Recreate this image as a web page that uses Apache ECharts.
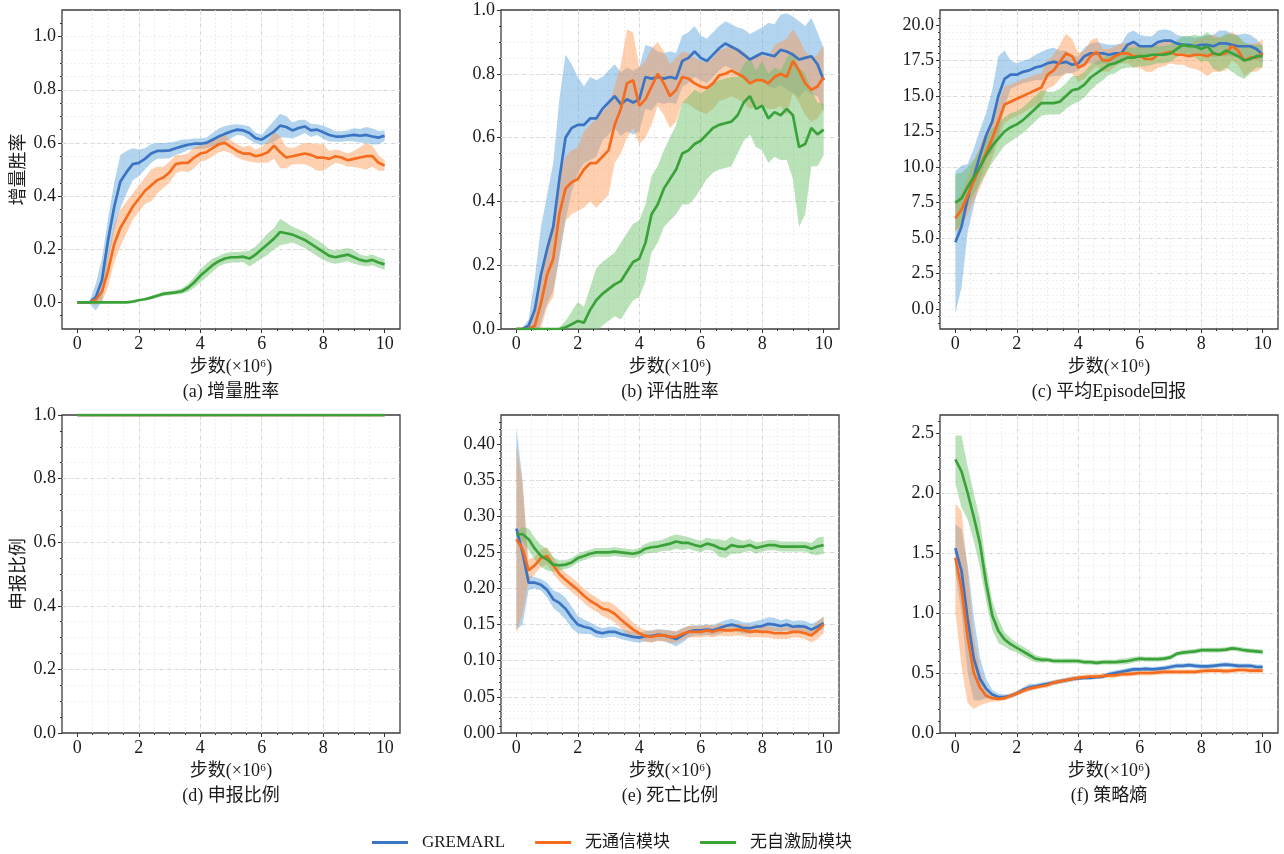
<!DOCTYPE html>
<html>
<head>
<meta charset="utf-8">
<script src="https://cdn.jsdelivr.net/npm/echarts@6/dist/echarts.min.js"></script>
<style>
  html, body { margin: 0; background: #fff; }
  #chart { width: 1284px; height: 854px; }
</style>
</head>
<body>
<div id="chart"></div>
<script>
// training steps (x 10^6)
const steps = [0, 0.2, 0.4, 0.6, 0.8, 1, 1.2, 1.4, 1.6, 1.8, 2, 2.2, 2.4, 2.6, 2.8, 3, 3.2, 3.4, 3.6, 3.8,
  4, 4.2, 4.4, 4.6, 4.8, 5, 5.2, 5.4, 5.6, 5.8, 6, 6.2, 6.4, 6.6, 6.8, 7, 7.2, 7.4, 7.6, 7.8,
  8, 8.2, 8.4, 8.6, 8.8, 9, 9.2, 9.4, 9.6, 9.8, 10];
const reportSteps = [0, 1, 2, 3, 4, 5, 6, 7, 8, 9, 10];

const methods = ["GREMARL", "无通信模块", "无自激励模块"];

// (a) 增量胜率
const winA_g = [0, 0, 0, 0.02, 0.084, 0.235, 0.36, 0.455, 0.49, 0.52,
  0.525, 0.54, 0.56, 0.57, 0.57, 0.572, 0.58, 0.587, 0.593, 0.597,
  0.597, 0.6, 0.612, 0.624, 0.634, 0.643, 0.65, 0.647, 0.637, 0.618,
  0.612, 0.627, 0.643, 0.665, 0.66, 0.647, 0.656, 0.662, 0.647, 0.65,
  0.64, 0.63, 0.624, 0.624, 0.627, 0.63, 0.627, 0.63, 0.624, 0.62, 0.627];
const winA_g_sd = [0, 0, 0.005, 0.05, 0.08, 0.08, 0.09, 0.1, 0.08, 0.06,
  0.05, 0.04, 0.035, 0.03, 0.03, 0.03, 0.025, 0.025, 0.02, 0.02,
  0.02, 0.02, 0.025, 0.03, 0.03, 0.025, 0.02, 0.02, 0.025, 0.02,
  0.02, 0.03, 0.04, 0.045, 0.04, 0.03, 0.03, 0.025, 0.025, 0.02,
  0.025, 0.025, 0.02, 0.02, 0.02, 0.025, 0.025, 0.03, 0.03, 0.025, 0.02];
const winA_o = [0, 0, 0, 0.01, 0.04, 0.12, 0.22, 0.28, 0.32, 0.36,
  0.39, 0.42, 0.44, 0.46, 0.47, 0.49, 0.52, 0.525, 0.525, 0.545,
  0.56, 0.565, 0.58, 0.595, 0.6, 0.585, 0.57, 0.56, 0.56, 0.55,
  0.555, 0.565, 0.59, 0.565, 0.545, 0.55, 0.555, 0.56, 0.555, 0.545,
  0.545, 0.54, 0.55, 0.545, 0.535, 0.54, 0.545, 0.55, 0.55, 0.525, 0.515];
const winA_o_sd = [0, 0, 0.005, 0.02, 0.04, 0.06, 0.07, 0.07, 0.06, 0.05,
  0.05, 0.05, 0.06, 0.05, 0.04, 0.04, 0.035, 0.03, 0.035, 0.04,
  0.03, 0.03, 0.03, 0.03, 0.03, 0.025, 0.025, 0.025, 0.03, 0.025,
  0.03, 0.04, 0.05, 0.06, 0.04, 0.03, 0.035, 0.04, 0.045, 0.05,
  0.05, 0.03, 0.025, 0.025, 0.025, 0.03, 0.04, 0.05, 0.04, 0.03, 0.02];
const winA_n = [0, 0, 0, 0, 0, 0, 0, 0, 0, 0.003,
  0.008, 0.012, 0.018, 0.025, 0.032, 0.035, 0.038, 0.042, 0.055, 0.075,
  0.1, 0.12, 0.14, 0.155, 0.165, 0.17, 0.17, 0.172, 0.165, 0.18,
  0.2, 0.22, 0.24, 0.265, 0.26, 0.255, 0.245, 0.235, 0.22, 0.205,
  0.19, 0.175, 0.17, 0.175, 0.18, 0.17, 0.16, 0.155, 0.16, 0.15, 0.143];
const winA_n_sd = [0, 0, 0, 0, 0, 0, 0, 0, 0, 0.002,
  0.004, 0.005, 0.006, 0.007, 0.008, 0.008, 0.008, 0.01, 0.015, 0.02,
  0.025, 0.025, 0.025, 0.02, 0.02, 0.02, 0.02, 0.02, 0.03, 0.03,
  0.035, 0.04, 0.04, 0.05, 0.04, 0.03, 0.03, 0.03, 0.03, 0.03,
  0.03, 0.025, 0.025, 0.025, 0.025, 0.025, 0.02, 0.02, 0.02, 0.02, 0.02];

// (b) 评估胜率
const evalB_g = [0, 0, 0.01, 0.06, 0.17, 0.25, 0.32, 0.47, 0.6, 0.63,
  0.64, 0.64, 0.66, 0.66, 0.69, 0.71, 0.73, 0.705, 0.72, 0.71,
  0.72, 0.79, 0.785, 0.79, 0.785, 0.79, 0.785, 0.84, 0.85, 0.87,
  0.85, 0.84, 0.86, 0.88, 0.895, 0.885, 0.875, 0.86, 0.845, 0.855,
  0.865, 0.86, 0.855, 0.875, 0.87, 0.86, 0.845, 0.85, 0.855, 0.83, 0.78];
const evalB_g_sd = [0, 0.005, 0.02, 0.1, 0.15, 0.17, 0.2, 0.25, 0.26, 0.2,
  0.15, 0.12, 0.13, 0.12, 0.1, 0.1, 0.1, 0.1, 0.1, 0.1,
  0.1, 0.1, 0.1, 0.08, 0.08, 0.08, 0.08, 0.08, 0.08, 0.08,
  0.07, 0.07, 0.07, 0.07, 0.07, 0.07, 0.07, 0.08, 0.08, 0.08,
  0.08, 0.1, 0.1, 0.11, 0.12, 0.12, 0.12, 0.1, 0.12, 0.1, 0.1];
const evalB_o = [0, 0, 0, 0.01, 0.08, 0.17, 0.22, 0.36, 0.44, 0.46,
  0.47, 0.5, 0.52, 0.52, 0.54, 0.56, 0.64, 0.69, 0.77, 0.78,
  0.7, 0.72, 0.76, 0.8, 0.77, 0.73, 0.75, 0.79, 0.785, 0.77,
  0.76, 0.755, 0.77, 0.795, 0.8, 0.81, 0.8, 0.79, 0.77, 0.78,
  0.78, 0.77, 0.79, 0.8, 0.79, 0.84, 0.81, 0.77, 0.75, 0.76, 0.79];
const evalB_o_sd = [0, 0, 0.01, 0.04, 0.08, 0.1, 0.12, 0.12, 0.1, 0.1,
  0.1, 0.12, 0.12, 0.14, 0.14, 0.14, 0.12, 0.14, 0.17, 0.15,
  0.12, 0.12, 0.12, 0.1, 0.1, 0.1, 0.1, 0.08, 0.08, 0.08,
  0.08, 0.08, 0.08, 0.08, 0.08, 0.08, 0.08, 0.08, 0.08, 0.08,
  0.08, 0.08, 0.1, 0.1, 0.12, 0.1, 0.1, 0.1, 0.1, 0.1, 0.1];
const evalB_n = [0, 0, 0, 0, 0, 0, 0, 0, 0.005, 0.015,
  0.025, 0.02, 0.06, 0.09, 0.11, 0.125, 0.14, 0.15, 0.18, 0.21,
  0.22, 0.27, 0.36, 0.39, 0.44, 0.47, 0.5, 0.55, 0.56, 0.58,
  0.59, 0.61, 0.63, 0.64, 0.645, 0.65, 0.67, 0.71, 0.73, 0.69,
  0.7, 0.66, 0.68, 0.67, 0.69, 0.67, 0.57, 0.58, 0.63, 0.61, 0.625];
const evalB_n_sd = [0, 0, 0, 0, 0, 0, 0, 0.005, 0.02, 0.04,
  0.06, 0.05, 0.07, 0.1, 0.1, 0.1, 0.1, 0.12, 0.12, 0.12,
  0.12, 0.12, 0.12, 0.12, 0.12, 0.13, 0.14, 0.16, 0.17, 0.17,
  0.15, 0.14, 0.14, 0.14, 0.14, 0.14, 0.12, 0.12, 0.12, 0.12,
  0.14, 0.14, 0.14, 0.14, 0.16, 0.2, 0.25, 0.22, 0.12, 0.1, 0.08];

// (c) 平均Episode回报
const retC_g = [4.7, 5.8, 7.8, 9.3, 10.8, 12.2, 13.2, 15.0, 16.2, 16.5,
  16.5, 16.7, 16.8, 17.0, 17.1, 17.3, 17.4, 17.3, 17.4, 17.2,
  17.3, 17.8, 18.0, 18.0, 18.0, 17.9, 18.0, 18.0, 18.6, 18.8,
  18.5, 18.5, 18.5, 18.8, 18.9, 18.9, 18.7, 18.6, 18.6, 18.5,
  18.6, 18.6, 18.5, 18.7, 18.7, 18.6, 18.5, 18.5, 18.5, 18.3, 17.9];
const retC_g_sd = [5.0, 4.3, 2.4, 2.0, 1.8, 1.6, 2.2, 2.8, 2.0, 1.0,
  0.8, 0.8, 0.8, 0.9, 1.0, 1.0, 1.0, 0.9, 0.8, 0.6,
  0.5, 0.6, 0.7, 0.8, 0.7, 0.7, 0.6, 0.7, 0.8, 0.8,
  0.8, 0.7, 0.7, 0.8, 0.8, 0.7, 0.6, 0.6, 0.6, 0.6,
  0.6, 0.7, 0.8, 0.9, 0.9, 0.8, 0.8, 0.9, 0.8, 0.7, 0.6];
const retC_o = [6.4, 7.0, 8.0, 9.0, 10.0, 11.0, 12.0, 13.2, 14.4, 14.6,
  14.8, 15.0, 15.2, 15.4, 15.6, 16.5, 16.8, 17.4, 18.0, 17.8,
  17.0, 17.2, 17.8, 18.1, 17.5, 17.5, 17.8, 18.0, 18.0, 17.8,
  17.8, 17.6, 17.6, 17.9, 18.0, 18.1, 17.9, 17.9, 17.8, 17.9,
  17.9, 17.8, 18.0, 17.9, 18.0, 18.5, 18.2, 17.5, 17.7, 17.7, 18.0];
const retC_o_sd = [1.0, 1.2, 1.3, 1.4, 1.5, 1.5, 1.4, 1.3, 1.3, 1.2,
  1.2, 1.2, 1.1, 1.1, 1.0, 1.0, 1.1, 1.2, 1.4, 1.2,
  1.0, 1.0, 1.1, 1.0, 0.8, 0.8, 0.7, 0.7, 0.7, 0.8,
  0.8, 0.9, 0.9, 0.9, 0.9, 0.8, 0.7, 0.7, 0.8, 1.0,
  1.2, 1.4, 1.3, 1.2, 1.2, 1.0, 1.0, 1.1, 1.0, 1.0, 1.0];
const retC_n = [7.5, 7.8, 8.6, 9.3, 10.0, 10.8, 11.5, 12.0, 12.5, 12.8,
  13.0, 13.3, 13.7, 14.1, 14.5, 14.5, 14.5, 14.6, 15.0, 15.4,
  15.5, 15.8, 16.3, 16.6, 16.9, 17.2, 17.3, 17.5, 17.7, 17.7,
  17.8, 17.8, 17.9, 17.9, 17.9, 18.0, 18.3, 18.6, 18.5, 18.5,
  18.3, 18.5, 18.0, 17.9, 18.2, 18.0, 17.8, 17.5, 17.6, 17.8, 17.8];
const retC_n_sd = [2.0, 1.8, 1.4, 1.2, 1.2, 1.2, 1.2, 1.1, 1.0, 1.0,
  0.9, 0.9, 0.9, 0.9, 0.9, 0.8, 0.8, 0.9, 0.9, 1.0,
  0.9, 0.9, 0.9, 0.8, 0.8, 0.7, 0.7, 0.6, 0.7, 0.7,
  0.7, 0.7, 0.7, 0.6, 0.6, 0.6, 0.6, 0.6, 0.7, 0.8,
  0.9, 1.0, 1.1, 1.2, 1.2, 1.3, 1.4, 1.3, 1.0, 0.8, 0.8];

// (d) 申报比例
const reportD_g = [1, 1, 1, 1, 1, 1, 1, 1, 1, 1, 1];
const reportD_o = [1, 1, 1, 1, 1, 1, 1, 1, 1, 1, 1];
const reportD_n = [1, 1, 1, 1, 1, 1, 1, 1, 1, 1, 1];
const reportD_sd = [0, 0, 0, 0, 0, 0, 0, 0, 0, 0, 0];

// (e) 死亡比例
const deathE_g = [0.283, 0.25, 0.208, 0.208, 0.205, 0.198, 0.185, 0.18, 0.172, 0.16,
  0.15, 0.147, 0.145, 0.14, 0.138, 0.14, 0.14, 0.137, 0.135, 0.133,
  0.132, 0.134, 0.134, 0.136, 0.135, 0.133, 0.13, 0.135, 0.14, 0.142,
  0.142, 0.143, 0.142, 0.145, 0.148, 0.15, 0.148, 0.145, 0.145, 0.147,
  0.148, 0.151, 0.15, 0.148, 0.15, 0.147, 0.148, 0.147, 0.143, 0.147, 0.152];
const deathE_g_sd = [0.14, 0.1, 0.01, 0.008, 0.008, 0.01, 0.012, 0.014, 0.015, 0.015,
  0.012, 0.01, 0.008, 0.008, 0.007, 0.007, 0.007, 0.007, 0.007, 0.007,
  0.007, 0.007, 0.008, 0.008, 0.008, 0.009, 0.01, 0.01, 0.008, 0.007,
  0.007, 0.007, 0.007, 0.008, 0.008, 0.008, 0.008, 0.008, 0.008, 0.008,
  0.009, 0.009, 0.009, 0.008, 0.008, 0.008, 0.008, 0.008, 0.008, 0.008, 0.008];
const deathE_o = [0.268, 0.255, 0.225, 0.232, 0.242, 0.245, 0.232, 0.22, 0.212, 0.205,
  0.198, 0.19, 0.183, 0.178, 0.172, 0.17, 0.165, 0.157, 0.15, 0.143,
  0.138, 0.134, 0.133, 0.135, 0.135, 0.133, 0.133, 0.137, 0.14, 0.14,
  0.14, 0.142, 0.14, 0.143, 0.142, 0.142, 0.143, 0.142, 0.14, 0.141,
  0.14, 0.14, 0.138, 0.138, 0.138, 0.14, 0.14, 0.138, 0.135, 0.142, 0.15];
const deathE_o_sd = [0.13, 0.09, 0.015, 0.012, 0.012, 0.012, 0.012, 0.01, 0.01, 0.01,
  0.01, 0.01, 0.01, 0.01, 0.01, 0.012, 0.012, 0.012, 0.012, 0.01,
  0.008, 0.008, 0.008, 0.008, 0.008, 0.008, 0.008, 0.008, 0.008, 0.008,
  0.008, 0.008, 0.008, 0.008, 0.008, 0.008, 0.008, 0.008, 0.008, 0.008,
  0.008, 0.008, 0.008, 0.008, 0.008, 0.008, 0.008, 0.008, 0.01, 0.012, 0.012];
const deathE_n = [0.275, 0.275, 0.268, 0.255, 0.245, 0.24, 0.233, 0.232, 0.233, 0.236,
  0.242, 0.245, 0.248, 0.25, 0.25, 0.25, 0.251, 0.25, 0.249, 0.248,
  0.25, 0.255, 0.257, 0.258, 0.26, 0.262, 0.265, 0.263, 0.263, 0.26,
  0.258, 0.262, 0.26, 0.256, 0.254, 0.26, 0.258, 0.258, 0.26, 0.256,
  0.258, 0.26, 0.26, 0.258, 0.258, 0.258, 0.258, 0.258, 0.255, 0.258, 0.26];
const deathE_n_sd = [0.005, 0.01, 0.015, 0.015, 0.015, 0.015, 0.01, 0.007, 0.006, 0.006,
  0.006, 0.006, 0.006, 0.006, 0.006, 0.006, 0.006, 0.006, 0.006, 0.006,
  0.006, 0.007, 0.008, 0.008, 0.008, 0.01, 0.01, 0.01, 0.008, 0.008,
  0.008, 0.008, 0.008, 0.012, 0.012, 0.012, 0.01, 0.008, 0.008, 0.008,
  0.007, 0.007, 0.007, 0.007, 0.007, 0.007, 0.007, 0.007, 0.008, 0.012, 0.012];

// (f) 策略熵
const entF_g = [1.54, 1.35, 0.95, 0.62, 0.45, 0.37, 0.32, 0.3, 0.3, 0.31,
  0.33, 0.36, 0.38, 0.39, 0.4, 0.41, 0.42, 0.43, 0.44, 0.45,
  0.455, 0.46, 0.46, 0.465, 0.47, 0.49, 0.5, 0.51, 0.52, 0.53,
  0.53, 0.535, 0.53, 0.535, 0.54, 0.55, 0.56, 0.56, 0.565, 0.56,
  0.555, 0.555, 0.56, 0.565, 0.57, 0.565, 0.56, 0.56, 0.56, 0.55, 0.55];
const entF_g_sd = [0.2, 0.35, 0.45, 0.35, 0.18, 0.08, 0.04, 0.03, 0.02, 0.02,
  0.02, 0.02, 0.03, 0.02, 0.02, 0.02, 0.02, 0.02, 0.02, 0.02,
  0.015, 0.015, 0.015, 0.015, 0.015, 0.02, 0.02, 0.02, 0.02, 0.02,
  0.02, 0.02, 0.02, 0.02, 0.02, 0.02, 0.02, 0.02, 0.02, 0.02,
  0.02, 0.02, 0.02, 0.02, 0.02, 0.02, 0.02, 0.02, 0.02, 0.02, 0.02];
const entF_o = [1.46, 1.2, 0.8, 0.5, 0.38, 0.31, 0.29, 0.285, 0.29, 0.31,
  0.33, 0.35, 0.37, 0.38, 0.39, 0.4, 0.42, 0.43, 0.44, 0.45,
  0.46, 0.465, 0.47, 0.47, 0.475, 0.48, 0.48, 0.49, 0.49, 0.495,
  0.5, 0.5, 0.5, 0.505, 0.51, 0.51, 0.51, 0.51, 0.51, 0.51,
  0.515, 0.52, 0.52, 0.52, 0.515, 0.52, 0.525, 0.525, 0.52, 0.52, 0.52];
const entF_o_sd = [0.45, 0.65, 0.55, 0.3, 0.15, 0.06, 0.03, 0.02, 0.02, 0.02,
  0.02, 0.02, 0.02, 0.02, 0.02, 0.02, 0.02, 0.02, 0.02, 0.02,
  0.02, 0.02, 0.02, 0.02, 0.02, 0.02, 0.02, 0.02, 0.02, 0.02,
  0.02, 0.02, 0.02, 0.02, 0.02, 0.02, 0.02, 0.02, 0.02, 0.02,
  0.02, 0.02, 0.02, 0.02, 0.02, 0.02, 0.02, 0.02, 0.02, 0.02, 0.02];
const entF_n = [2.28, 2.18, 2.0, 1.8, 1.58, 1.25, 0.98, 0.85, 0.78, 0.74,
  0.71, 0.68, 0.65, 0.62, 0.61, 0.61, 0.6, 0.6, 0.6, 0.6,
  0.6, 0.59, 0.59, 0.585, 0.59, 0.59, 0.59, 0.595, 0.6, 0.61,
  0.62, 0.615, 0.615, 0.615, 0.62, 0.63, 0.66, 0.67, 0.675, 0.68,
  0.69, 0.69, 0.69, 0.69, 0.695, 0.705, 0.7, 0.69, 0.685, 0.68, 0.675];
const entF_n_sd = [0.2, 0.3, 0.22, 0.2, 0.2, 0.15, 0.12, 0.1, 0.06, 0.05,
  0.04, 0.04, 0.04, 0.03, 0.025, 0.02, 0.02, 0.02, 0.02, 0.02,
  0.02, 0.02, 0.02, 0.02, 0.02, 0.02, 0.02, 0.025, 0.025, 0.025,
  0.02, 0.02, 0.02, 0.02, 0.02, 0.02, 0.02, 0.02, 0.02, 0.02,
  0.02, 0.02, 0.02, 0.02, 0.02, 0.02, 0.02, 0.02, 0.02, 0.02, 0.02];

// tick labels
const xTicks = [0, 2, 4, 6, 8, 10];
const rateTicks = [0, 0.2, 0.4, 0.6, 0.8, 1.0];
const returnTicks = [0, 2.5, 5, 7.5, 10, 12.5, 15, 17.5, 20];
const deathTicks = [0, 0.05, 0.1, 0.15, 0.2, 0.25, 0.3, 0.35, 0.4];
const entropyTicks = [0, 0.5, 1.0, 1.5, 2.0, 2.5];

const lineColors = ["#3a74c2", "#f66c1e", "#3ba23a"];
const bandColors = ["rgba(102,170,222,0.5)", "rgba(252,150,80,0.45)", "rgba(100,190,100,0.45)"];
const font = "'Liberation Serif', 'Noto Sans CJK SC', serif";
const stepLabel = "步数(×10⁶)";

// minor tick positions strictly inside the axis range
function ticksBetween(lo, hi, step) {
  const out = [];
  const n = Math.round((hi - lo) / step);
  for (let k = 1; k < n; k++) out.push(+(lo + k * step).toFixed(4));
  return out;
}

const panels = [
  { title: "(a) 增量胜率", yName: "增量胜率", left: 62, top: 10, height: 319, yMin: -0.1, yMax: 1.1,
    yTicks: rateTicks, yMinor: ticksBetween(-0.1, 1.1, 0.05), digits: 1, xs: steps,
    runs: [[winA_g, winA_g_sd], [winA_o, winA_o_sd], [winA_n, winA_n_sd]] },
  { title: "(b) 评估胜率", left: 501, top: 10, height: 319, yMin: 0, yMax: 1.0,
    yTicks: rateTicks, yMinor: ticksBetween(0, 1, 0.05), digits: 1, xs: steps,
    runs: [[evalB_g, evalB_g_sd], [evalB_o, evalB_o_sd], [evalB_n, evalB_n_sd]] },
  { title: "(c) 平均Episode回报", left: 940, top: 10, height: 319, yMin: -1.4, yMax: 21.05,
    yTicks: returnTicks, yMinor: ticksBetween(-1.5, 21, 0.5), digits: 1, xs: steps,
    runs: [[retC_g, retC_g_sd], [retC_o, retC_o_sd], [retC_n, retC_n_sd]] },
  { title: "(d) 申报比例", yName: "申报比例", left: 62, top: 415, height: 318, yMin: 0, yMax: 1.0,
    yTicks: rateTicks, yMinor: ticksBetween(0, 1, 0.05), digits: 1, xs: reportSteps,
    runs: [[reportD_g, reportD_sd], [reportD_o, reportD_sd], [reportD_n, reportD_sd]] },
  { title: "(e) 死亡比例", left: 501, top: 415, height: 318, yMin: 0, yMax: 0.44,
    yTicks: deathTicks, yMinor: ticksBetween(0, 0.44, 0.01), digits: 2, xs: steps,
    runs: [[deathE_g, deathE_g_sd], [deathE_o, deathE_o_sd], [deathE_n, deathE_n_sd]] },
  { title: "(f) 策略熵", left: 940, top: 415, height: 318, yMin: 0, yMax: 2.65,
    yTicks: entropyTicks, yMinor: ticksBetween(0, 2.7, 0.1), digits: 1, xs: steps,
    runs: [[entF_g, entF_g_sd], [entF_o, entF_o_sd], [entF_n, entF_n_sd]] },
];
const xMinor = ticksBetween(-0.5, 10.5, 0.5);

const grids = [], xAxes = [], yAxes = [], series = [], texts = [];
const labelStyle = { fontFamily: font, fontSize: 18, color: "#1a1a1a" };
const majorGrid = { show: true, showMinLine: false, showMaxLine: false,
  lineStyle: { color: "#c6c6c6", type: [4, 3], width: 0.8 } };
const minorGrid = { show: true, showMinLine: false, showMaxLine: false,
  lineStyle: { color: "#ebebeb", type: [2, 2], width: 0.8 } };
const tickLine = { color: "#333", width: 1 };
const hiddenLine = { show: false, onZero: false };

// shaded mean ± sd band drawn as one polygon through the axis scales
function bandSeries(i, xs, mean, sd, color) {
  return {
    type: "custom", xAxisIndex: 2 * i, yAxisIndex: 2 * i, silent: true, clip: true,
    data: xs.map((x, k) => [x, mean[k] - sd[k], mean[k] + sd[k]]),
    encode: { x: 0, y: [1, 2] },
    renderItem: (params, api) => {
      if (params.dataIndex !== 0) return null;
      const upper = xs.map((x, k) => api.coord([x, mean[k] + sd[k]]));
      const lower = xs.map((x, k) => api.coord([x, mean[k] - sd[k]])).reverse();
      return { type: "polygon", shape: { points: upper.concat(lower) }, style: { fill: color } };
    },
  };
}

panels.forEach((p, i) => {
  grids.push({ left: p.left, top: p.top, width: 338, height: p.height, show: true,
    borderColor: "#3c3c3c", borderWidth: 1.3, backgroundColor: "transparent" });

  xAxes.push({
    gridIndex: i, type: "value", min: -0.5, max: 10.5, position: "bottom",
    axisLine: hiddenLine,
    axisTick: { customValues: xTicks, length: 4, lineStyle: tickLine },
    axisLabel: Object.assign({ customValues: xTicks, margin: 6 }, labelStyle),
    splitLine: majorGrid,
    name: stepLabel, nameLocation: "middle", nameGap: 29,
    nameTextStyle: labelStyle,
  });
  xAxes.push({
    gridIndex: i, type: "value", min: -0.5, max: 10.5, position: "bottom",
    axisLine: hiddenLine,
    axisTick: { customValues: xMinor, length: 2, lineStyle: tickLine },
    axisLabel: { show: false },
    splitLine: minorGrid,
  });

  yAxes.push({
    gridIndex: i, type: "value", min: p.yMin, max: p.yMax, position: "left",
    axisLine: hiddenLine,
    axisTick: { customValues: p.yTicks, length: 4, lineStyle: tickLine },
    axisLabel: Object.assign({ customValues: p.yTicks, margin: 6,
      formatter: (v) => Number(v).toFixed(p.digits) }, labelStyle),
    splitLine: majorGrid,
    name: p.yName || "", nameLocation: "middle", nameRotate: 90, nameGap: 34,
    nameTextStyle: labelStyle,
  });
  yAxes.push({
    gridIndex: i, type: "value", min: p.yMin, max: p.yMax, position: "left",
    axisLine: hiddenLine,
    axisTick: { customValues: p.yMinor, length: 2, lineStyle: tickLine },
    axisLabel: { show: false },
    splitLine: minorGrid,
  });

  p.runs.forEach(([mean, sd], m) => {
    series.push(bandSeries(i, p.xs, mean, sd, bandColors[m]));
    series.push({
      type: "line", name: methods[m], xAxisIndex: 2 * i, yAxisIndex: 2 * i,
      symbol: "none", data: p.xs.map((x, k) => [x, mean[k]]),
      lineStyle: { color: lineColors[m], width: 2.7 },
      itemStyle: { color: lineColors[m] },
    });
  });

  texts.push({
    type: "text", x: p.left + 169, y: p.top + p.height + 54,
    style: { text: p.title, font: "18px " + font, fill: "#1a1a1a",
      textAlign: "center", textVerticalAlign: "top" },
  });
});

const chart = echarts.init(document.getElementById("chart"));
chart.setOption({
  animation: false,
  grid: grids,
  xAxis: xAxes,
  yAxis: yAxes,
  series: series,
  graphic: texts,
  legend: {
    data: methods, left: 367, top: 829, icon: "rect",
    itemWidth: 36, itemHeight: 3, itemGap: 30,
    textStyle: { fontFamily: font, fontSize: 17, color: "#1a1a1a", padding: [0, 0, 0, 9] },
  },
});
</script>
</body>
</html>
